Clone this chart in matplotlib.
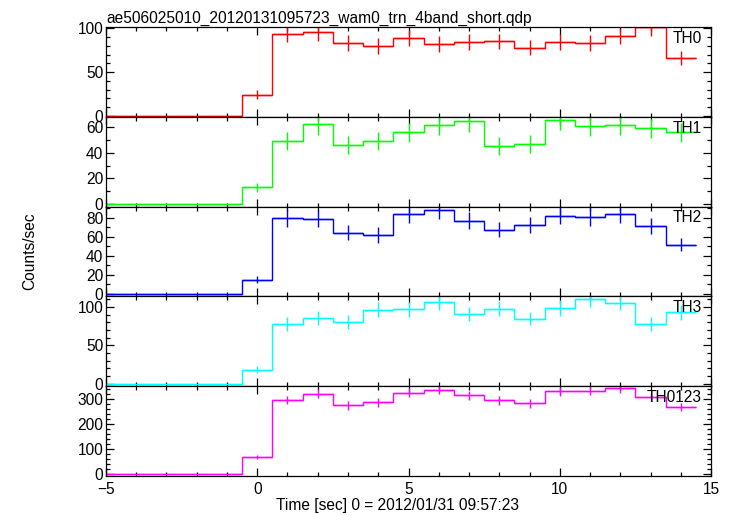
"""Light curves of the WAM transient in four energy bands."""

import matplotlib
matplotlib.use("Agg")
import matplotlib.pyplot as plt
import numpy as np
from matplotlib.ticker import MultipleLocator

plt.rcParams["font.family"] = ["Liberation Sans", "DejaVu Sans"]
FS = 11.2

TITLE = "ae506025010_20120131095723_wam0_trn_4band_short.qdp"
XLABEL = "Time [sec] 0 = 2012/01/31 09:57:23"
YLABEL = "Counts/sec"

# bin centres, 1 s bins
time = [-5, -4, -3, -2, -1, 0, 1, 2, 3, 4, 5, 6, 7, 8, 9, 10, 11, 12, 13, 14]

bands = ["TH0", "TH1", "TH2", "TH3", "TH0123"]
colors = ["#ff0000", "#00ff00", "#0000ff", "#00ffff", "#ff00ff"]

rate_th0 = [0, 0, 0, 0, 0, 24, 94, 96, 83, 80, 89, 82, 84, 85, 78, 84, 83, 91, 101, 66]
err_th0 = [0, 0, 0, 0, 0, 5, 10, 10, 9, 9, 9.5, 9, 9, 9, 9, 9, 9, 9.5, 10, 8]

rate_th1 = [0, 0, 0, 0, 0, 13, 49, 62, 46, 49, 56, 61.5, 64.5, 45.5, 47, 65.5, 61, 61.5, 59, 56]
err_th1 = [0, 0, 0, 0, 0, 3.6, 7, 8, 7, 7, 7.5, 8, 8, 7, 7, 8, 8, 8, 7.5, 7.5]

rate_th2 = [0, 0, 0, 0, 0, 15, 80, 79, 64.5, 62, 84, 88, 77, 67.5, 72.5, 82.5, 81, 84, 72, 52]
err_th2 = [0, 0, 0, 0, 0, 4, 9, 9, 8, 8, 9, 9.5, 9, 8, 8.5, 9, 9, 9, 8.5, 7]

rate_th3 = [0, 0, 0, 0, 0, 18, 78, 86, 81, 96.5, 97, 107, 91, 98, 85, 99, 110, 106, 78, 93]
err_th3 = [0, 0, 0, 0, 0, 4.5, 9, 9, 9, 10, 10, 10.5, 9.5, 10, 9, 10, 10.5, 10, 9, 9.5]

rate_th0123 = [0, 0, 0, 0, 0, 70, 297, 322, 275, 287, 325, 337, 315, 295, 283, 331, 333, 343, 309, 267]
err_th0123 = [0, 0, 0, 0, 0, 8.5, 17, 18, 16.5, 17, 18, 18, 17.5, 17, 17, 18, 18, 18.5, 17.5, 16]

rates = [rate_th0, rate_th1, rate_th2, rate_th3, rate_th0123]
errors = [err_th0, err_th1, err_th2, err_th3, err_th0123]

ylims = [(-1.2, 101.5), (-2, 68), (-2.6, 92), (-3.5, 114), (-7, 352)]
majors = [50, 20, 20, 50, 100]
minors = [10, 10, 10, 10, 20]

fig, axes = plt.subplots(5, 1, sharex=True, figsize=(7.33, 5.16), dpi=100)
fig.subplots_adjust(left=0.1446, right=0.970, bottom=0.0775, top=0.9477, hspace=0)

t = np.asarray(time, dtype=float)
edges = np.append(t - 0.5, t[-1] + 0.5)

for ax, name, color, rate, err, ylim, major, minor in zip(
    axes, bands, colors, rates, errors, ylims, majors, minors
):
    ax.stairs(rate, edges, baseline=None, color=color, linewidth=1.0)
    ax.errorbar(time, rate, xerr=0.5, yerr=err, fmt="none", ecolor=color,
                elinewidth=1.0, capsize=0)
    ax.set_xlim(-5, 15)
    ax.set_ylim(*ylim)
    ax.yaxis.set_major_locator(MultipleLocator(major))
    ax.yaxis.set_minor_locator(MultipleLocator(minor))
    ax.xaxis.set_major_locator(MultipleLocator(5))
    ax.xaxis.set_minor_locator(MultipleLocator(1))
    ax.tick_params(which="both", direction="in", top=True, right=True,
                   labelsize=FS, width=0.9)
    ax.tick_params(which="major", length=5.5)
    ax.tick_params(which="minor", length=3)
    ax.tick_params(axis="y", which="major", pad=2)
    ax.tick_params(axis="x", which="major", pad=4)
    for spine in ax.spines.values():
        spine.set_linewidth(0.9)
    ax.text(0.985, 0.875, name, transform=ax.transAxes, ha="right", va="center",
            fontsize=FS)

axes[0].set_title(TITLE, loc="left", fontsize=FS, pad=3)
fig.text(0.542, 0.021, XLABEL, ha="center", va="center", fontsize=FS)
fig.text(0.041, 0.513, YLABEL, rotation=90, ha="center", va="center", fontsize=FS)

fig.savefig("out.png", dpi=100)
